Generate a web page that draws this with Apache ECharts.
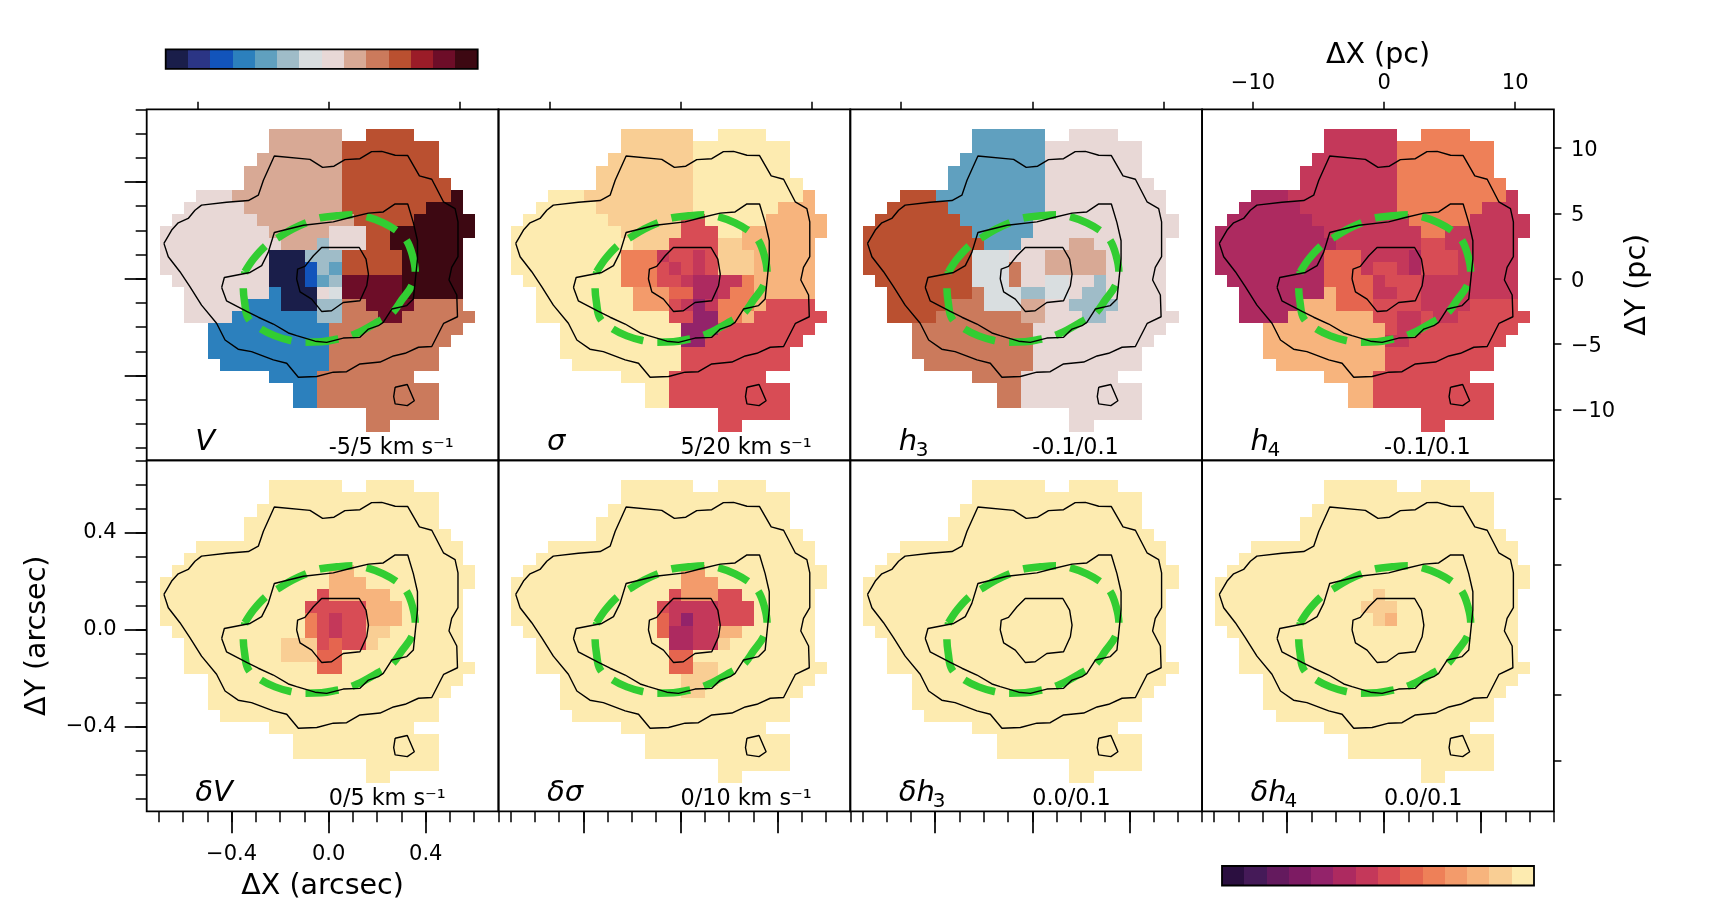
<!DOCTYPE html>
<html>
<head>
<meta charset="utf-8">
<title>kinematic maps</title>
<style>
html, body { margin: 0; padding: 0; background: #fff; }
#main { width: 1736px; height: 912px; }
</style>
<script src="https://cdn.jsdelivr.net/npm/echarts@6/dist/echarts.min.js"></script>
</head>
<body>
<div id="main"></div>
<script>
// colour levels, a..n, low to high
var divergingColors = ['#1a1e4a', '#2b3585', '#1254bb', '#2c80bd', '#60a0bf', '#9fbcc8', '#d9dee0', '#e8d8d6', '#d8a995', '#cb7a5c', '#ba5030', '#9b1c28', '#6d0d28', '#3d0812'];
var sequentialColors = ['#2b0f40', '#451a58', '#641a5e', '#7d1b63', '#93236a', '#ad2a60', '#c4385a', '#d84c55', '#e5654f', '#ee8058', '#f39b6b', '#f7b47d', '#f9ce94', '#fdebb0'];
var levelKeys = 'abcdefghijklmn';

// spaxel maps, one string per row from the top. runs of count+level, '.' is no data
var vMap = ['9.6i2.4k', '9.6i8k', '8.7i8k', '7.8i8k', '7.8i9k', '3.3h9i9k1n', '2.5h8i7k3n', '1.7h8i5k5n', '9h5i3h2k7n', '10h3i1f3h2k6n', '9h3a3f5k5n', '9h3a1c1f1e5k5n', '1.8h3a1c1e1f5m5n', '2.7h1d3a1h1g5m5n', '2.5h3d3a2f2j4m4j', '2.4h7d2f3j2m6j', '4.10d11j', '4.10d10j', '4.10d9j', '5.9d9j', '9.4d8j', '11.2d10j', '11.2d10j', '17.6j', '17.2j'];
var sigmaMap = ['9.6m2.4n', '9.6m8n', '8.7m8n', '7.8m8n', '7.8m9n', '3.3n9m9n1l', '2.5n8m7n3l', '1.7n6m2h5n5l', '9n5m3h2n7l', '10n3m4h2m6l', '9n3j1g2h1g1h3m5l', '9n3j1h1g1h1g1h3m5l', '1.8n3j2h1g2f2g1j5l', '2.8n3k2i2f1g2j5l', '2.8n3k1h1g1e1g3j1l4h', '2.11n2h2e2j1l6h', '4.10n3e8h', '4.10n2e8h', '4.10n9h', '5.9n9h', '9.4n8h', '11.2n10h', '11.2n10h', '17.6h', '17.2h'];
var h3Map = ['9.6e2.4h', '9.6e8h', '8.7e8h', '7.8e8h', '7.8e9h', '3.3k9e10h', '2.5k8e10h', '1.7k6e12h', '9k5e12h', '10k3e4h2i6h', '9k3g3h5i5h', '9k3g1j2h5i5h', '1.8k3g1j2h2g2h1f5h', '2.7k1j3g2f2g1h2f5h', '2.5k3j3g2i2h4f4h', '2.4k7j2i3h2f6h', '4.10j11h', '4.10j10h', '4.10j9h', '5.9j9h', '9.4j8h', '11.2j10h', '11.2j10h', '17.6h', '17.2h'];
var h4Map = ['9.6g2.4j', '9.6g8j', '8.7g8j', '7.8g8j', '7.8g9j', '3.3f9g9j1g', '2.5f8g7j3g', '1.7f8g5j5g', '9f8g2j7g', '10f7g2h6g', '9f3i4g1f3h5g', '9f3i1g2h1g1f3h5g', '1.8f4i1g3h8g', '2.7f1l3i2g2h8g', '2.5f3l3i4h4g4h', '2.4f7l2h2g1h2g6h', '4.10l1h2g8h', '4.10l2g8h', '4.10l9h', '5.9l9h', '9.4l8h', '11.2l10h', '11.2l10h', '17.6h', '17.2h'];
var dVMap = ['9.6n2.4n', '9.14n', '8.15n', '7.16n', '7.17n', '3.22n', '2.23n', '1.13n2l10n', '14n3l9n', '13n1h5l6n', '12n5h3l5n', '12n1j1h1g2h3l5n', '1.11n1j1h1g2h2m6n', '2.8n3m1h1i2h1m7n', '2.8n3m2i10n', '2.11n2i11n', '4.21n', '4.20n', '4.19n', '5.18n', '9.12n', '11.12n', '11.12n', '17.6n', '17.2n'];
var dSigmaMap = ['9.6n2.4n', '9.14n', '8.15n', '7.16n', '7.17n', '3.22n', '2.23n', '1.13n2k10n', '14n3k9n', '13n1h3k2h6n', '12n1h4g3h5n', '12n1i1g1e2g3h5n', '1.11n1i2f2g2l6n', '2.11n2f2g1m7n', '2.11n2i10n', '2.11n2i2m9n', '4.10n3m8n', '4.10n2m8n', '4.19n', '5.18n', '9.12n', '11.12n', '11.12n', '17.6n', '17.2n'];
var dH3Map = ['9.6n2.4n', '9.14n', '8.15n', '7.16n', '7.17n', '3.22n', '2.23n', '1.25n', '26n', '25n', '25n', '25n', '1.24n', '2.23n', '2.23n', '2.24n', '4.21n', '4.20n', '4.19n', '5.18n', '9.12n', '11.12n', '11.12n', '17.6n', '17.2n'];
var dH4Map = ['9.6n2.4n', '9.14n', '8.15n', '7.16n', '7.17n', '3.22n', '2.23n', '1.25n', '26n', '13n1m11n', '12n3m10n', '13n1m1l10n', '1.24n', '2.23n', '2.23n', '2.24n', '4.21n', '4.20n', '4.19n', '5.18n', '9.12n', '11.12n', '11.12n', '17.6n', '17.2n'];

// contours, arcsec
var outerContour = [[-0.679,0.146],[-0.647,0.201],[-0.620,0.231],[-0.579,0.249],[-0.551,0.283],[-0.524,0.304],[-0.421,0.316],[-0.331,0.323],[-0.290,0.345],[-0.269,0.407],[-0.224,0.507],[-0.077,0.493],[-0.025,0.460],[0.022,0.465],[0.067,0.492],[0.129,0.496],[0.177,0.525],[0.219,0.526],[0.274,0.510],[0.326,0.509],[0.374,0.425],[0.425,0.411],[0.473,0.318],[0.521,0.290],[0.533,0.235],[0.533,0.091],[0.507,0.047],[0.496,-0.005],[0.528,-0.067],[0.531,-0.157],[0.474,-0.184],[0.425,-0.280],[0.370,-0.283],[0.315,-0.308],[0.267,-0.319],[0.212,-0.344],[0.129,-0.352],[0.074,-0.384],[0.019,-0.386],[-0.049,-0.404],[-0.125,-0.407],[-0.173,-0.349],[-0.228,-0.335],[-0.318,-0.301],[-0.373,-0.291],[-0.427,-0.253],[-0.462,-0.184],[-0.524,-0.109],[-0.572,-0.033],[-0.613,0.029],[-0.661,0.091]];
var midContour = [[-0.441,-0.036],[-0.430,0.005],[-0.324,0.026],[-0.276,0.054],[-0.249,0.109],[-0.224,0.191],[-0.104,0.221],[0.019,0.235],[0.088,0.253],[0.164,0.271],[0.225,0.276],[0.274,0.309],[0.326,0.309],[0.349,0.232],[0.366,0.157],[0.366,0.081],[0.349,-0.084],[0.322,-0.111],[0.260,-0.125],[0.225,-0.180],[0.205,-0.194],[0.164,-0.208],[0.129,-0.242],[0.060,-0.245],[-0.008,-0.263],[-0.056,-0.258],[-0.132,-0.235],[-0.166,-0.224],[-0.228,-0.187],[-0.290,-0.159],[-0.338,-0.135],[-0.421,-0.091]];
var innerContour = [[-0.132,-0.001],[-0.128,0.040],[-0.098,0.051],[-0.063,0.095],[-0.029,0.129],[0.126,0.129],[0.154,0.081],[0.164,0.019],[0.157,-0.029],[0.129,-0.091],[0.060,-0.098],[0.012,-0.132],[-0.029,-0.135],[-0.070,-0.084],[-0.118,-0.054]];
var smallContour = [[0.274,-0.448],[0.324,-0.437],[0.353,-0.504],[0.324,-0.524],[0.274,-0.517],[0.268,-0.487]];
var ringPoints = [[-0.345,0.029],[-0.308,0.084],[-0.256,0.139],[-0.208,0.170],[-0.150,0.205],[-0.091,0.232],[-0.033,0.252],[0.033,0.260],[0.102,0.264],[0.159,0.256],[0.225,0.231],[0.287,0.194],[0.322,0.157],[0.345,0.098],[0.357,0.029],[0.344,-0.026],[0.301,-0.088],[0.260,-0.143],[0.205,-0.177],[0.143,-0.212],[0.081,-0.239],[0.033,-0.250],[-0.029,-0.260],[-0.098,-0.262],[-0.157,-0.255],[-0.221,-0.236],[-0.283,-0.205],[-0.331,-0.164],[-0.346,-0.100],[-0.352,-0.033]];

// ticks
var minorTicks = [-0.7, -0.6, -0.5, -0.4, -0.3, -0.2, -0.1, 0, 0.1, 0.2, 0.3, 0.4, 0.5, 0.6, 0.7];
var majorTicks = [-0.4, 0, 0.4];
var pcTicksX = [-10, 0, 10];
var pcTicksY = [-10, -5, 0, 5, 10];

var panels = [
	{ map: vMap, colors: divergingColors, name: 'V', range: '-5/5 km s\u207b\u00b9' },
	{ map: sigmaMap, colors: sequentialColors, name: '\u03c3', range: '5/20 km s\u207b\u00b9' },
	{ map: h3Map, colors: divergingColors, name: 'h', sub: '3', subX: 17, range: '-0.1/0.1' },
	{ map: h4Map, colors: sequentialColors, name: 'h', sub: '4', subX: 17, range: '-0.1/0.1' },
	{ map: dVMap, colors: sequentialColors, name: '\u03b4V', range: '0/5 km s\u207b\u00b9' },
	{ map: dSigmaMap, colors: sequentialColors, name: '\u03b4\u03c3', range: '0/10 km s\u207b\u00b9' },
	{ map: dH3Map, colors: sequentialColors, name: '\u03b4h', sub: '3', subX: 34, range: '0.0/0.1' },
	{ map: dH4Map, colors: sequentialColors, name: '\u03b4h', sub: '4', subX: 34, range: '0.0/0.1' }
];

var font = '"DejaVu Sans"';
var axisMin = -0.75, axisMax = 0.70;
var pcPerArcsec = 18.51;
var spaxel = 0.05, firstColX = -0.697, firstRowY = 0.6175;
var panelLeft = 146.7, panelTop = 109.3, panelW = 351.8, panelH = 351;

var grids = [], xAxes = [], yAxes = [], seriesList = [], texts = [];

function arcsecLabel(v){
	return (v < 0 ? '\u2212' : '') + Math.abs(v).toFixed(1);
}
function pcLabel(v){
	return (v < 0 ? '\u2212' : '') + Math.abs(v);
}
// right hand labels sit a little under their ticks, done with a padded rich token
function pcLabelLowered(v){
	return '{low|' + pcLabel(v) + '}';
}
function addAxis(list, gridIndex, o){
	var arcsec = !o.pc;
	var axis = {
		gridIndex: gridIndex,
		type: 'value',
		position: o.position,
		min: arcsec ? axisMin : axisMin * pcPerArcsec,
		max: arcsec ? axisMax : axisMax * pcPerArcsec,
		show: o.ticks != null,
		splitLine: { show: false },
		axisLine: { show: false, onZero: false },
		axisTick: { show: true, length: o.length, inside: false, customValues: o.ticks, lineStyle: { color: '#000', width: o.width || 1.5 } },
		axisLabel: {
			show: !!o.labels,
			customValues: o.ticks,
			margin: o.margin,
			color: '#000',
			fontFamily: font,
			fontSize: 21,
			formatter: o.lowered ? pcLabelLowered : (arcsec ? arcsecLabel : pcLabel),
			rich: { low: { color: '#000', fontFamily: font, fontSize: 21, padding: [5, 0, 0, 0] } },
			hideOverlap: false
		}
	};
	if(o.name){
		axis.name = o.name;
		axis.nameLocation = 'middle';
		axis.nameGap = o.nameGap;
		axis.nameRotate = o.nameRotate;
		axis.nameTextStyle = { color: '#000', fontFamily: font, fontSize: 28.5 };
	}
	list.push(axis);
	return list.length - 1;
}
function decodeRows(rows){
	var cells = [];
	rows.forEach(function(row, r){
		var c = 0;
		row.replace(/(\d+)(.)/g, function(m, count, key){
			count = +count;
			for(var k = 0; k < count; k++, c++){
				if(key != '.')
					cells.push([firstColX + c * spaxel, firstRowY - r * spaxel, levelKeys.indexOf(key)]);
			}
		});
	});
	return cells;
}
function cellRenderer(colors){
	return function(params, api){
		var p0 = api.coord([api.value(0), api.value(1)]);
		var p1 = api.coord([api.value(0) + spaxel, api.value(1) - spaxel]);
		var x0 = Math.round(p0[0]), y0 = Math.round(p0[1]);
		return {
			type: 'rect',
			shape: { x: x0, y: y0, width: Math.round(p1[0]) - x0, height: Math.round(p1[1]) - y0 },
			style: { fill: colors[api.value(2)] }
		};
	};
}
function closed(points){
	return points.concat([points[0]]);
}

panels.forEach(function(panel, p){
	var col = p % 4, row = Math.floor(p / 4);
	var left = panelLeft + col * panelW, top = panelTop + row * panelH;
	grids.push({ left: left, top: top, width: panelW, height: panelH, show: true, borderColor: '#000', borderWidth: 1.8, backgroundColor: 'transparent', z: 10 });

	// base axes carry the marks
	var xi = addAxis(xAxes, p, { position: 'bottom', ticks: row == 1 ? minorTicks : null, length: 11 });
	var yi = addAxis(yAxes, p, { position: 'left', ticks: col == 0 ? minorTicks : null, length: 11 });

	if(row == 1){
		addAxis(xAxes, p, p == 4 ?
			{ position: 'bottom', ticks: majorTicks, length: 22, width: 1.7, labels: true, margin: 32.5, name: '\u0394X (arcsec)', nameGap: 61 } :
			{ position: 'bottom', ticks: majorTicks, length: 22, width: 1.7 });
	}else{
		addAxis(xAxes, p, p == 3 ?
			{ position: 'top', pc: true, ticks: pcTicksX, length: 7.5, labels: true, margin: 15, name: '\u0394X (pc)', nameGap: 39.5 } :
			{ position: 'top', pc: true, ticks: pcTicksX, length: 7.5 });
	}
	if(col == 0){
		addAxis(yAxes, p, p == 4 ?
			{ position: 'left', ticks: majorTicks, length: 22, width: 1.7, labels: true, margin: 30, name: '\u0394Y (arcsec)', nameGap: 95, nameRotate: 90 } :
			{ position: 'left', ticks: majorTicks, length: 22, width: 1.7 });
	}
	if(col == 3){
		addAxis(yAxes, p, p == 3 ?
			{ position: 'right', pc: true, ticks: pcTicksY, length: 7.5, labels: true, lowered: true, margin: 17, name: '\u0394Y (pc)', nameGap: 69, nameRotate: 90 } :
			{ position: 'right', pc: true, ticks: pcTicksY, length: 7.5 });
	}

	seriesList.push({
		type: 'custom',
		xAxisIndex: xi,
		yAxisIndex: yi,
		data: decodeRows(panel.map),
		renderItem: cellRenderer(panel.colors),
		silent: true,
		animation: false,
		z: 2
	});
	seriesList.push({
		type: 'line',
		xAxisIndex: xi,
		yAxisIndex: yi,
		data: closed(ringPoints),
		symbol: 'none',
		smooth: 0.4,
		silent: true,
		animation: false,
		lineStyle: { color: '#32cd32', width: 7.5, type: [33, 14.2], cap: 'butt' },
		z: 3
	});
	[outerContour, midContour, innerContour, smallContour].forEach(function(line){
		seriesList.push({
			type: 'line',
			xAxisIndex: xi,
			yAxisIndex: yi,
			data: closed(line),
			symbol: 'none',
			silent: true,
			animation: false,
			lineStyle: { color: '#000', width: 1.4 },
			z: 4
		});
	});

	// panel name and range
	texts.push({
		type: 'text',
		x: left + 48.5,
		y: top + 347.5,
		z: 20,
		style: { text: panel.name, fontFamily: font, fontStyle: 'italic', fontSize: 29, fill: '#000', textVerticalAlign: 'bottom' }
	});
	if(panel.sub){
		texts.push({
			type: 'text',
			x: left + 48.5 + panel.subX,
			y: top + 351,
			z: 20,
			style: { text: panel.sub, fontFamily: font, fontSize: 20, fill: '#000', textVerticalAlign: 'bottom' }
		});
	}
	texts.push({
		type: 'text',
		x: left + 182,
		y: top + 350,
		z: 20,
		style: { text: panel.range, fontFamily: font, fontSize: 22.3, fill: '#000', textVerticalAlign: 'bottom' }
	});
});

// colour bars
function addColorBar(colors, left, top){
	var g = grids.length;
	grids.push({ left: left, top: top, width: 312, height: 19.5, show: true, borderColor: '#000', borderWidth: 1.8, backgroundColor: 'transparent', z: 10 });
	xAxes.push({ gridIndex: g, type: 'value', min: 0, max: colors.length, show: false, splitLine: { show: false } });
	yAxes.push({ gridIndex: g, type: 'value', min: 0, max: 1, show: false, splitLine: { show: false } });
	seriesList.push({
		type: 'custom',
		xAxisIndex: xAxes.length - 1,
		yAxisIndex: yAxes.length - 1,
		data: colors.map(function(c, i){ return [i]; }),
		silent: true,
		animation: false,
		renderItem: function(params, api){
			var i = api.value(0);
			var p0 = api.coord([i, 1]), p1 = api.coord([i + 1, 0]);
			var x0 = Math.round(p0[0]);
			return {
				type: 'rect',
				shape: { x: x0, y: p0[1], width: Math.round(p1[0]) - x0, height: p1[1] - p0[1] },
				style: { fill: colors[i] }
			};
		},
		z: 2
	});
}
addColorBar(divergingColors, 165.7, 49.4);
addColorBar(sequentialColors, 1222, 866);

var chart = echarts.init(document.getElementById('main'), null, { renderer: 'canvas' });
chart.setOption({
	backgroundColor: '#fff',
	animation: false,
	tooltip: { show: false },
	grid: grids,
	xAxis: xAxes,
	yAxis: yAxes,
	series: seriesList,
	graphic: { elements: texts }
});
</script>
</body>
</html>
